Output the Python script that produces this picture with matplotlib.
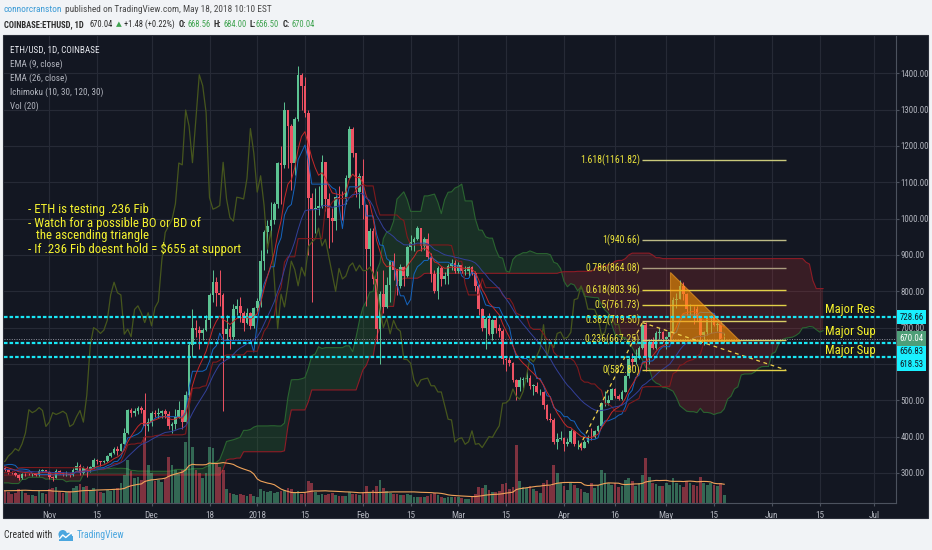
import numpy as np
import pandas as pd
import matplotlib
matplotlib.use("Agg")
import matplotlib.pyplot as plt
import matplotlib.dates as mdates
from matplotlib import font_manager as fm
from matplotlib.patches import Rectangle, Polygon, Circle
from matplotlib.transforms import blended_transform_factory, IdentityTransform

# ----------------------------------------------------------------- data
START = "2017-09-01"
FIRST_OPEN = 383.0

close_sep = [388,348,348,297,317,336,334,305,298,296,296,291,276,223,256,254,257,296,283,283,258,263,284,282,295,289,308,297,292,302]
high_sep = [392,390,360,348,325,339,340,338,310,302,305,305,293,280,266,264,263,298,297,290,284,270,289,287,300,296,312,310,299,303]
low_sep = [380,335,330,280,280,315,325,295,288,270,290,285,265,218,197,240,240,255,278,278,254,252,262,278,281,286,288,294,280,291]
vol_sep = [150,260,200,300,250,180,150,170,130,140,120,130,180,350,380,200,150,220,160,130,200,150,160,90,120,110,150,130,120,100]

close_oct = [303,297,292,292,295,308,311,309,297,299,303,302,338,338,334,334,316,314,308,303,299,295,286,298,297,296,296,294,306,307,304]
high_oct = [304,305,298,295,298,310,313,313,311,303,305,306,350,342,342,340,336,318,317,310,306,303,297,301,301,299,299,298,311,310,309]
low_oct = [296,295,289,288,290,293,305,305,293,293,297,297,300,332,320,331,313,302,306,298,297,292,280,283,292,294,293,293,292,302,302]
vol_oct = [90,100,110,80,90,120,100,90,120,100,110,100,250,180,150,120,170,150,120,110,90,100,140,130,100,80,80,70,120,100,90]

close_nov = [290,286,305,300,296,296,294,309,320,299,315,307,316,337,333,330,332,347,355,367,361,380,410,474,466,471,480,472,428,440]
high_nov = [306,293,310,307,303,305,299,315,331,325,320,319,320,340,338,334,335,350,357,372,374,382,424,475,480,479,485,483,520,450]
low_nov = [283,279,285,297,293,293,288,293,307,294,296,290,304,315,326,318,327,330,345,352,350,360,380,408,455,458,461,465,390,415]
vol_nov = [140,150,160,110,100,110,120,150,170,190,160,170,130,150,120,110,100,130,120,140,150,200,280,430,320,250,260,230,660,380]

close_dec = [466,461,465,470,463,428,434,455,472,440,514,651,700,694,684,693,720,790,825,796,790,682,696,675,750,760,740,714,741,705,755]
high_dec = [470,474,480,473,475,470,440,476,497,474,525,659,750,720,705,700,735,795,860,840,860,795,735,705,765,780,785,745,755,742,758]
low_dec = [430,453,451,452,450,420,410,420,452,420,440,510,620,675,640,665,690,700,770,760,760,470,665,640,670,735,715,690,710,695,700]
vol_dec = [300,220,230,210,250,460,380,330,290,330,610,1050,560,330,300,250,300,560,550,400,360,330,140,100,90,80,90,80,70,90,70]

close_jan = [772,884,962,980,997,1041,1153,1148,1299,1255,1154,1273,1396,1366,1292,1058,1026,1030,1036,1155,1054,1003,993,1059,1057,1054,1111,1248,1180,1073,1118]
high_jan = [782,915,970,995,1045,1045,1155,1200,1320,1290,1260,1280,1420,1400,1390,1300,1070,1085,1090,1175,1155,1070,1030,1065,1090,1075,1120,1255,1252,1180,1125]
low_jan = [742,758,860,905,945,985,1030,1040,1140,1140,1080,1120,1270,1300,1280,900,770,960,1010,1030,1020,920,935,970,1035,995,1040,1110,1170,1060,1030]
vol_jan = [60,140,120,110,120,100,110,120,130,150,140,110,120,90,100,220,200,110,80,90,80,90,100,80,70,70,70,110,90,90,80]

close_feb = [1037,916,966,834,697,792,757,817,883,860,815,866,842,923,935,944,974,925,943,895,847,800,863,834,842,869,878,856]
high_feb = [1165,1040,975,975,855,800,860,840,885,905,860,875,870,925,955,950,980,970,950,960,905,860,870,870,853,875,890,885]
low_feb = [1000,760,870,820,660,600,740,755,770,830,790,810,815,840,915,910,940,910,915,890,825,795,780,815,820,820,860,850]
vol_feb = [110,170,100,130,170,230,150,120,100,90,90,80,80,90,80,60,60,60,60,70,90,100,80,60,50,60,60,60]

close_mar = [872,857,857,866,849,815,750,700,725,683,720,698,690,613,612,602,555,538,556,559,561,540,540,523,523,486,448,446,385,394,397]
high_mar = [880,875,870,870,870,855,820,755,730,740,725,730,710,695,620,620,605,560,565,565,580,570,545,550,530,525,490,465,450,410,415]
low_mar = [850,850,845,840,845,800,735,690,640,680,665,685,675,600,580,595,550,500,525,535,550,530,515,520,515,475,445,440,380,365,390]
vol_mar = [60,50,40,40,60,90,160,150,180,130,110,110,120,190,200,140,160,580,220,160,150,170,140,120,100,200,230,170,380,300,200]

close_apr = [379,386,416,379,381,370,385,400,398,415,430,492,493,502,531,511,503,524,567,615,606,621,643,708,618,660,645,684,688,670]
high_apr = [400,395,420,418,390,385,390,405,425,418,432,495,525,515,533,535,518,528,570,620,630,640,650,710,715,665,675,690,698,692]
low_apr = [360,375,383,375,365,362,368,383,390,395,413,425,485,488,503,505,500,502,523,562,590,600,615,640,580,600,640,640,670,660]
vol_apr = [170,130,200,180,150,140,110,100,200,150,180,330,300,200,180,200,160,170,230,250,220,170,200,280,450,260,200,190,170,170]

close_may = [673,687,777,780,815,792,751,751,750,727,679,687,730,730,708,709,668.56,670.04]
high_may = [677,690,785,795,830,825,795,766,760,760,728,692,733,735,740,715,715,684]
low_may = [640,664,683,755,778,775,735,735,710,718,655,653,680,685,705,690,662,656.5]
vol_may = [200,180,250,200,180,160,220,200,180,170,260,200,180,200,180,170,200,80]

# drawings
fib_ratios = ["1.618", "1", "0.786", "0.618", "0.5", "0.382", "0.236", "0"]
fib_prices = [1161.82, 940.66, 864.08, 803.96, 761.73, 719.50, 667.25, 582.80]
fib_start, fib_end = "2018-04-24", "2018-06-05"
key_levels = [728.66, 656.83, 618.53]
key_label_shift_px = [0, 8, 7]
key_texts = ["Major Res", "Major Sup", "Major Sup"]
key_text_prices = [731, 671, 619]
key_text_date = "2018-06-24"
last_price = 670.04
tri_dates = ["2018-05-02 00:00", "2018-05-02 00:00", "2018-05-22 12:00"]
tri_prices = [854, 664, 664]
trend_up_dates = ["2018-04-05 12:00", "2018-04-24 00:00"]
trend_up_prices = [372, 714]
trend_dn_dates = ["2018-04-24 00:00", "2018-06-05 00:00"]
trend_dn_prices = [714, 584]
tick_dates = ["2017-11-01","2017-11-15","2017-12-01","2017-12-18","2018-01-01","2018-01-15",
              "2018-02-01","2018-02-15","2018-03-01","2018-03-15","2018-04-01","2018-04-16",
              "2018-05-01","2018-05-15","2018-06-01","2018-06-15","2018-07-01"]
tick_labels = ["Nov","15","Dec","18","2018","15","Feb","15","Mar","15","Apr","16","May","15","Jun","15","Jul"]
price_ticks = [300,400,500,600,700,800,900,1000,1100,1200,1300,1400]
notes = ["- ETH is testing .236 Fib", "- Watch for a possible BO or BD of",
         "the ascending triangle", "- If .236 Fib doesnt hold = \\$655 at support"]
header1 = ["connorcranston", "published on TradingView.com, May 18, 2018 10:10 EST"]
header2 = ["COINBASE:ETHUSD, 1D", "670.04", "\u25B2", "+1.48 (+0.22%)", "O:", "668.56",
           "H:", "684.00", "L:", "656.50", "C:", "670.04"]


def d2n(lst):
    return mdates.date2num(pd.to_datetime(lst, format="mixed"))

# ----------------------------------------------------------------- series
close = np.array(close_sep+close_oct+close_nov+close_dec+close_jan+close_feb+close_mar+close_apr+close_may, float)
high = np.array(high_sep+high_oct+high_nov+high_dec+high_jan+high_feb+high_mar+high_apr+high_may, float)
low = np.array(low_sep+low_oct+low_nov+low_dec+low_jan+low_feb+low_mar+low_apr+low_may, float)
vol = np.array(vol_sep+vol_oct+vol_nov+vol_dec+vol_jan+vol_feb+vol_mar+vol_apr+vol_may, float)
dates = pd.date_range(START, periods=len(close), freq="D")
opn = np.r_[FIRST_OPEN, close[:-1]]
x = mdates.date2num(dates)

sc, sh, sl = pd.Series(close), pd.Series(high), pd.Series(low)
ema9 = sc.ewm(span=9, adjust=False).mean().values
ema26 = sc.ewm(span=26, adjust=False).mean().values
tenkan = ((sh.rolling(10, min_periods=1).max() + sl.rolling(10, min_periods=1).min()) / 2).values
kijun = ((sh.rolling(30, min_periods=1).max() + sl.rolling(30, min_periods=1).min()) / 2).values
spanA = (tenkan + kijun) / 2
spanB = ((sh.rolling(120, min_periods=1).max() + sl.rolling(120, min_periods=1).min()) / 2).values
SHIFT = 29
volma = pd.Series(vol).rolling(20, min_periods=1).mean().values

# ----------------------------------------------------------------- fonts
ttf = fm.fontManager.ttflist
names = {f.name for f in ttf}
STRETCH = "normal"
if "Liberation Sans Narrow" in names:
    FONT, F = "Liberation Sans Narrow", 1.22
elif "Roboto Condensed" in names:
    FONT, F = "Roboto Condensed", 1.12
elif any(f.name == "Noto Sans" and f.stretch in ("condensed", "semi-condensed") for f in ttf):
    FONT, F, STRETCH = "Noto Sans", 1.08, "condensed"
else:
    FONT, F = "Liberation Sans", 1.0
FAM = [FONT, "DejaVu Sans"]
plt.rcParams["font.family"] = FAM
plt.rcParams["font.stretch"] = STRETCH


def fs(v):  # sizes tuned for Liberation Sans widths
    return v * F

# ----------------------------------------------------------------- figure
W, H = 932, 550
BG = "#131722"
fig = plt.figure(figsize=(W / 100, H / 100), dpi=100, facecolor="#f1f3f6")

def fx(px):
    return px / W

def fy(py):
    return 1 - py / H

fig.add_artist(Rectangle((fx(3), fy(518)), fx(928) - fx(3), fy(35) - fy(518),
                         transform=fig.transFigure, facecolor=BG, edgecolor="#2a2e39",
                         lw=0.8, zorder=0))

ax = fig.add_axes([fx(4), fy(503), fx(896) - fx(4), fy(36) - fy(503)])
ax.set_facecolor(BG)
x0 = mdates.date2num(pd.Timestamp("2017-11-01"))
ax.set_xlim(x0 - 13.29, x0 + 248.4)
ax.set_ylim(217.4, 1502.6)

# grid / axes
ax.set_axisbelow(True)
ax.grid(True, color="#262a36", lw=0.8)
ax.yaxis.tick_right()
ax.set_yticks(price_ticks)
ax.set_yticklabels([f"{v:.2f}" for v in price_ticks])
ax.set_xticks(d2n(tick_dates))
ax.set_xticklabels(tick_labels)
ax.tick_params(axis="both", colors="#4c525e", labelcolor="#b2b5be", labelsize=fs(5.6), length=2.5, width=0.8)
ax.tick_params(axis="y", pad=0.8)
ax.tick_params(axis="x", pad=3.2, labelsize=fs(5.9))
for s in ("top", "left"):
    ax.spines[s].set_visible(False)
for s in ("right", "bottom"):
    ax.spines[s].set_color("#4c525e")
    ax.spines[s].set_linewidth(0.8)

# Ichimoku cloud
xa = x + SHIFT
ax.fill_between(xa, spanA, spanB, where=spanA >= spanB, interpolate=True,
                color="#2e7d32", alpha=0.25, lw=0, zorder=1)
ax.fill_between(xa, spanA, spanB, where=spanA < spanB, interpolate=True,
                color="#e53935", alpha=0.18, lw=0, zorder=1)
ax.plot(xa, spanA, color="#2a6430", lw=0.8, zorder=1.2)
ax.plot(xa, spanB, color="#8e1c26", lw=0.8, zorder=1.2)

# volume
vtrans = blended_transform_factory(ax.transData, ax.transAxes)
VOL_TOP = 4670.0
up = close >= opn
vcol = np.where(up, "#53b987", "#eb4d5c")
ax.bar(x, vol / VOL_TOP, width=0.8, bottom=0, color=vcol, alpha=0.5, lw=0,
       transform=vtrans, zorder=2)
ax.plot(x, volma / VOL_TOP, color="#f0a35a", lw=0.8, transform=vtrans, zorder=2.5)

# candles
ccol = np.where(up, "#5cc393", "#ee5263")
ax.vlines(x, low, high, colors=ccol, lw=0.7, zorder=3)
ax.bar(x, np.maximum(np.abs(close - opn), 1.2), bottom=np.minimum(opn, close),
       width=0.78, color=ccol, lw=0, zorder=3.1)

# indicator lines
ax.plot(x - SHIFT, close, color="#46561d", lw=0.9, zorder=3.5)
ax.plot(x, tenkan, color="#1565c0", lw=0.7, zorder=3.6)
ax.plot(x, kijun, color="#7f1a1d", lw=0.8, zorder=3.6)
ax.plot(x, ema9, color="#c62828", lw=0.7, zorder=3.7)
ax.plot(x, ema26, color="#33409a", lw=0.7, zorder=3.7)

# current price line
ax.axhline(last_price, color="#8d919c", lw=0.7, ls=(0, (1, 1.5)), zorder=4)

# fib retracement
fx0 = d2n([fib_start])[0]
fx1 = d2n([fib_end])[0]
fib_line_cols = ["#c9c97a", "#bdbb86", "#aa9c7e", "#e2d148", "#e2d148", "#d8cc66", "#d8cf6a", "#e2d148"]
for r, p, c in zip(fib_ratios, fib_prices, fib_line_cols):
    ax.hlines(p, fx0, fx1, color=c, lw=1.0, zorder=5)
    ax.annotate(f"{r}({p:.2f})", xy=(fx0, p), xytext=(-1.6, 0), textcoords="offset points",
                ha="right", va="center", fontsize=fs(6.3), color="#ece43c", zorder=5.5)

# triangle + trend lines
tri = Polygon(list(zip(d2n(tri_dates), tri_prices)), closed=True,
              facecolor="#ff9800", alpha=0.58, edgecolor="#ffa726", lw=0.8, zorder=6)
ax.add_patch(tri)
ax.plot(d2n(trend_up_dates), trend_up_prices, color="#efd24a", lw=0.9, ls=(0, (3, 3)), zorder=6.5)
ax.plot(d2n(trend_dn_dates), trend_dn_prices, color="#efd24a", lw=0.9, ls=(0, (3, 3)), zorder=6.5)

# key levels
for lv in key_levels:
    ax.axhline(lv, color="#18e6f5", lw=1.6, ls=(0, (1.6, 0.9)), zorder=7)
kd = d2n([key_text_date])[0]
for t, p in zip(key_texts, key_text_prices):
    ax.text(kd, p, t, ha="center", va="bottom", fontsize=fs(8.1), color="#f6f22c", zorder=9)

# price-scale labels
ytr = blended_transform_factory(ax.transAxes, ax.transData)
for lv, sh_px in zip(key_levels, key_label_shift_px):
    ax.annotate(f"{lv:.2f}", xy=(1, lv), xycoords=ytr, xytext=(2.6, -sh_px * 0.72), textcoords="offset points",
                ha="left", va="center", fontsize=fs(5.6), color="#131722", annotation_clip=False,
                bbox=dict(boxstyle="square,pad=0.3", fc="#19f0ff", ec="none"), zorder=10)
ax.annotate(f"{last_price:.2f}", xy=(1, last_price), xycoords=ytr, xytext=(2.6, 0),
            textcoords="offset points", ha="left", va="center", fontsize=fs(5.6), color="#ffffff",
            annotation_clip=False, bbox=dict(boxstyle="square,pad=0.3", fc="#4e9e78", ec="none"),
            zorder=11)

# annotation text block
note_pos = [(28, 210), (28, 223), (35.5, 235.5), (28, 248.5)]
for t, (px, py) in zip(notes, note_pos):
    fig.text(fx(px), fy(py), t, ha="left", va="center", fontsize=fs(8.3), color="#f4f230", zorder=20)

# legend (top-left)
leg = ["ETH/USD, 1D, COINBASE", "EMA (9, close)", "EMA (26, close)", "Ichimoku (10, 30, 120, 30)", "Vol (20)"]
for i, t in enumerate(leg):
    fig.text(fx(10), fy(50 + i * 14.1), t, ha="left", va="center", fontsize=fs(5.9),
             color="#e6e8ee" if i == 0 else "#b2b5be", zorder=20)

# header
DARK = "#2b2b2b"
GREEN = "#3ea34f"
h1_x = [4, 65]
h1_col = ["#3b9bd6", "#4a4a4a"]
for s, px, c in zip(header1, h1_x, h1_col):
    fig.text(fx(px), fy(9.3), s, ha="left", va="center", fontsize=fs(6.0), color=c)
h2_x = [4, 90, 115.5, 124, 179, 187.5, 214, 223, 249, 256, 283, 291]
h2_col = [DARK, DARK, GREEN, DARK, DARK, GREEN, DARK, GREEN, DARK, GREEN, DARK, GREEN]
h2_wt = ["bold", "normal", "normal", "normal", "bold", "normal", "bold", "normal", "bold", "normal", "bold", "normal"]
for s, px, c, wt in zip(header2, h2_x, h2_col, h2_wt):
    size = fs(4.8) if s == "\u25B2" else fs(5.5)
    fig.text(fx(px), fy(24.3), s, ha="left", va="center", fontsize=size, color=c, fontweight=wt)

# footer
renderer = fig.canvas.get_renderer()
t_created = fig.text(fx(4), fy(535), "Created with", ha="left", va="center", fontsize=fs(6.2), color="#2f2f2f")
end = t_created.get_window_extent(renderer).x1
LOGO = "#4aa6df"
idt = IdentityTransform()
lx = end + 6
for cx, cy, r in [(lx + 4.5, 534.3, 4.3), (lx + 10.5, 536.0, 3.3)]:
    fig.add_artist(Circle((cx, H - cy), r, transform=idt, fc=LOGO, ec="none", zorder=5))
fig.add_artist(Rectangle((lx + 0.5, H - 540.5), 14.0, 5.0, transform=idt, fc=LOGO, ec="none", zorder=5))
fig.add_artist(plt.Line2D([lx + 1.5, lx + 4.5, lx + 7.5, lx + 13.5],
                          [H - 538.5, H - 535.0, H - 537.5, H - 532.5],
                          transform=idt, color="white", lw=1.0, zorder=6))
fig.text((lx + 18) / W, fy(535), "TradingView", ha="left", va="center", fontsize=fs(6.2), color=LOGO)

fig.savefig("out.png", dpi=100, facecolor=fig.get_facecolor())
